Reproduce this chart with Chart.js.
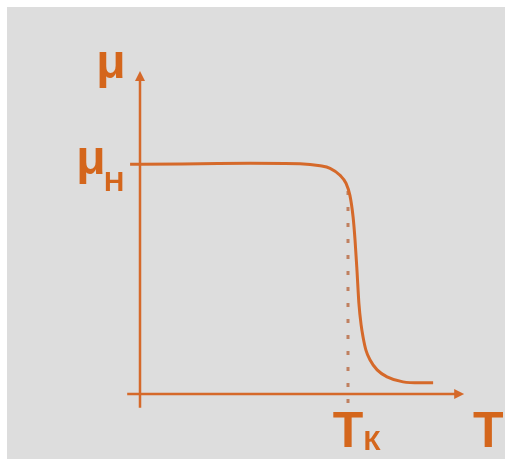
<!DOCTYPE html>
<html>
<head>
<meta charset="utf-8">
<script src="https://cdn.jsdelivr.net/npm/chart.js@4"></script>
<style>
  html, body { margin: 0; padding: 0; background: #fff; }
  #bg { position: absolute; left: 7px; top: 7px; width: 498px; height: 452px; background: #dddddd; }
  #wrap { position: absolute; left: 0; top: 0; width: 514px; height: 459px; }
</style>
</head>
<body>
<div id="bg"></div>
<div id="wrap"><canvas id="c" width="514" height="459"></canvas></div>
<script>
// ---- data (T in arbitrary units, mu relative to mu_H) ----
const curveT  = [-0.31, 0, 1.88, 3.44, 5.0, 5.63, 5.94, 6.25, 6.44, 6.56, 6.66, 6.72, 6.78, 6.84, 6.91, 6.97, 7.06, 7.19, 7.41, 7.72, 8.22, 8.75, 9.16];
const curveMu = [0.996, 0.996, 0.998, 1.0, 0.998, 0.989, 0.978, 0.948, 0.913, 0.861, 0.766, 0.667, 0.537, 0.394, 0.299, 0.247, 0.190, 0.147, 0.104, 0.074, 0.052, 0.048, 0.048];
const curieT   = 6.5;
const curieMu  = [0.88, -0.05];   // dotted drop line, top and bottom
const muH      = 1.0;
const xAxisEnd = 10.13;           // arrow tip of T axis
const yAxisEnd = 1.40;            // arrow tip of mu axis
const xAxisStart = -0.4;
const yAxisStart = -0.06;

const ORANGE = "#d5692a";
const TEXT = "#d4661c";

const pts = curveT.map((t, i) => ({ x: t, y: curveMu[i] }));
const drop = curieMu.map(m => ({ x: curieT, y: m }));

function arrow(ctx, x, y, dx, dy) {
  // small filled triangle, tip at (x,y), pointing along (dx,dy)
  const len = 10, half = 5;
  const px = -dy, py = dx;
  ctx.beginPath();
  ctx.moveTo(x, y);
  ctx.lineTo(x - dx * len + px * half, y - dy * len + py * half);
  ctx.lineTo(x - dx * len - px * half, y - dy * len - py * half);
  ctx.closePath();
  ctx.fill();
}

const axesPlugin = {
  id: "axes",
  beforeDatasetsDraw(chart) {
    const { ctx, scales: { x, y } } = chart;
    const x0 = x.getPixelForValue(0), y0 = y.getPixelForValue(0);
    ctx.save();
    ctx.strokeStyle = ORANGE;
    ctx.fillStyle = ORANGE;
    ctx.lineWidth = 2.5;
    // T axis
    const xe = x.getPixelForValue(xAxisEnd);
    ctx.beginPath();
    ctx.moveTo(x.getPixelForValue(xAxisStart), y0);
    ctx.lineTo(xe - 6, y0);
    ctx.stroke();
    arrow(ctx, xe, y0, 1, 0);
    // mu axis
    const ye = y.getPixelForValue(yAxisEnd);
    ctx.beginPath();
    ctx.moveTo(x0, y.getPixelForValue(yAxisStart));
    ctx.lineTo(x0, ye + 6);
    ctx.stroke();
    arrow(ctx, x0, ye, 0, -1);
    ctx.restore();
  },
  afterDraw(chart) {
    const { ctx, scales: { x, y } } = chart;
    const x0 = x.getPixelForValue(0), y0 = y.getPixelForValue(0);
    const yH = y.getPixelForValue(muH);
    const xk = x.getPixelForValue(curieT);
    ctx.save();
    ctx.fillStyle = TEXT;
    ctx.textAlign = "center";
    ctx.textBaseline = "alphabetic";
    const big = "bold 48px 'Liberation Sans', Arial, sans-serif";
    const bigT = "bold 50px 'Liberation Sans', Arial, sans-serif";
    const sub = "bold 28px 'Liberation Sans', Arial, sans-serif";
    // mu at top of axis
    ctx.font = big;
    ctx.fillText("μ", x0 - 29, 78);
    // mu_H
    ctx.fillText("μ", x0 - 49, yH + 11);
    ctx.font = sub;
    ctx.fillText("Н", x0 - 26, yH + 28);
    // T_K
    ctx.font = bigT;
    ctx.fillText("T", xk, y0 + 53);
    ctx.font = sub;
    ctx.fillText("К", xk + 24, y0 + 56);
    // T
    ctx.font = bigT;
    ctx.fillText("T", x.getPixelForValue(xAxisEnd) + 24, y0 + 53);
    ctx.restore();
  }
};

new Chart(document.getElementById("c"), {
  type: "line",
  data: {
    datasets: [
      { data: pts, borderColor: ORANGE, borderWidth: 3, pointRadius: 0, cubicInterpolationMode: "monotone", fill: false },
      { data: drop, borderColor: "#c08060", borderWidth: 3, borderDash: [4, 12], pointRadius: 0, fill: false }
    ]
  },
  options: {
    responsive: false,
    animation: false,
    devicePixelRatio: 1,
    layout: { padding: { left: 108, right: 22, top: 48, bottom: 19 } },
    plugins: { legend: { display: false }, tooltip: { enabled: false } },
    scales: {
      x: { type: "linear", min: -1, max: 11, display: false },
      y: { type: "linear", min: -0.2, max: 1.5, display: false }
    }
  },
  plugins: [axesPlugin]
});
</script>
</body>
</html>
